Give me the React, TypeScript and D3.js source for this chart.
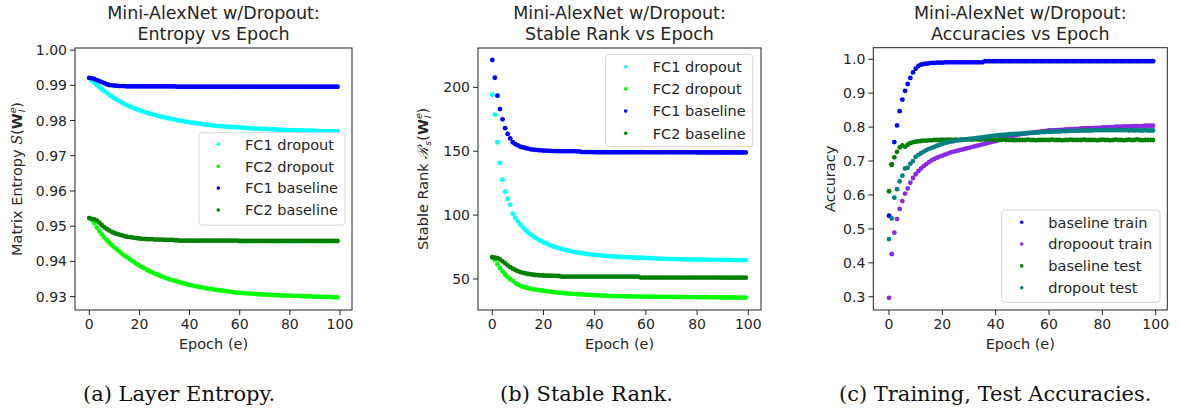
import React from "react";
import * as d3 from "d3";

// ---------------- DATA ----------------
const epochs: number[] = d3.range(100);

// Panel (a): matrix entropy
const entFc1Drop = [
  0.9921,0.9914,0.9907,0.9901,0.9895,0.9889,0.9884,0.9878,0.9873,0.9868,
  0.9863,0.9859,0.9855,0.9851,0.9847,0.9844,0.9840,0.9837,0.9834,0.9832,
  0.9829,0.9827,0.9824,0.9822,0.9820,0.9818,0.9816,0.9814,0.9812,0.9810,
  0.9809,0.9807,0.9806,0.9804,0.9803,0.9801,0.9800,0.9799,0.9797,0.9796,
  0.9795,0.9794,0.9793,0.9792,0.9791,0.9790,0.9789,0.9788,0.9787,0.9786,
  0.9785,0.9785,0.9784,0.9784,0.9783,0.9783,0.9782,0.9782,0.9781,0.9781,
  0.9780,0.9780,0.9779,0.9779,0.9778,0.9778,0.9777,0.9777,0.9777,0.9776,
  0.9776,0.9776,0.9775,0.9775,0.9775,0.9774,0.9774,0.9774,0.9773,0.9773,
  0.9773,0.9773,0.9772,0.9772,0.9772,0.9772,0.9771,0.9771,0.9771,0.9771,
  0.9771,0.9770,0.9770,0.9770,0.9770,0.9770,0.9770,0.9770,0.9770,0.9770,
];
const entFc2Drop = [
  0.9523,0.9518,0.9508,0.9496,0.9486,0.9477,0.9468,0.9460,0.9453,0.9446,
  0.9440,0.9434,0.9428,0.9422,0.9417,0.9412,0.9407,0.9402,0.9397,0.9392,
  0.9388,0.9384,0.9380,0.9376,0.9372,0.9369,0.9366,0.9363,0.9360,0.9357,
  0.9354,0.9352,0.9349,0.9347,0.9345,0.9343,0.9341,0.9339,0.9337,0.9335,
  0.9333,0.9332,0.9330,0.9329,0.9327,0.9326,0.9325,0.9323,0.9322,0.9321,
  0.9320,0.9319,0.9318,0.9317,0.9316,0.9315,0.9314,0.9313,0.9312,0.9311,
  0.9311,0.9310,0.9310,0.9309,0.9309,0.9308,0.9308,0.9307,0.9307,0.9306,
  0.9306,0.9305,0.9305,0.9305,0.9304,0.9304,0.9304,0.9303,0.9303,0.9303,
  0.9303,0.9302,0.9302,0.9302,0.9302,0.9301,0.9301,0.9301,0.9301,0.9300,
  0.9300,0.9300,0.9300,0.9299,0.9299,0.9299,0.9299,0.9298,0.9298,0.9298,
];
const entFc1Base = [
  0.9921,0.9920,0.9918,0.9915,0.9912,0.9909,0.9906,0.9903,0.9901,0.9900,
  0.9899,0.9899,0.9898,0.9898,0.9898,0.9897,0.9897,0.9897,0.9897,0.9897,
  0.9897,0.9897,0.9897,0.9897,0.9897,0.9897,0.9897,0.9897,0.9897,0.9897,
  0.9897,0.9897,0.9897,0.9897,0.9897,0.9896,0.9896,0.9896,0.9896,0.9896,
  0.9896,0.9896,0.9896,0.9896,0.9896,0.9896,0.9896,0.9896,0.9896,0.9896,
  0.9896,0.9896,0.9896,0.9896,0.9896,0.9896,0.9896,0.9896,0.9896,0.9896,
  0.9896,0.9896,0.9896,0.9896,0.9896,0.9896,0.9896,0.9896,0.9896,0.9896,
  0.9896,0.9896,0.9896,0.9896,0.9896,0.9896,0.9896,0.9896,0.9896,0.9896,
  0.9896,0.9896,0.9896,0.9896,0.9896,0.9896,0.9896,0.9896,0.9896,0.9896,
  0.9896,0.9896,0.9896,0.9896,0.9896,0.9896,0.9896,0.9896,0.9896,0.9896,
];
const entFc2Base = [
  0.9523,0.9521,0.9519,0.9516,0.9510,0.9503,0.9497,0.9492,0.9488,0.9484,
  0.9481,0.9478,0.9476,0.9474,0.9472,0.9470,0.9469,0.9468,0.9467,0.9466,
  0.9465,0.9464,0.9464,0.9463,0.9463,0.9463,0.9462,0.9462,0.9462,0.9462,
  0.9461,0.9461,0.9461,0.9461,0.9460,0.9460,0.9459,0.9459,0.9459,0.9459,
  0.9459,0.9459,0.9459,0.9459,0.9459,0.9459,0.9459,0.9459,0.9459,0.9459,
  0.9459,0.9459,0.9459,0.9459,0.9459,0.9459,0.9459,0.9459,0.9459,0.9459,
  0.9458,0.9458,0.9458,0.9458,0.9458,0.9458,0.9458,0.9458,0.9458,0.9458,
  0.9458,0.9458,0.9458,0.9458,0.9458,0.9458,0.9458,0.9458,0.9458,0.9458,
  0.9458,0.9458,0.9458,0.9458,0.9458,0.9458,0.9458,0.9458,0.9458,0.9458,
  0.9458,0.9458,0.9458,0.9458,0.9458,0.9458,0.9458,0.9458,0.9458,0.9458,
];

// Panel (b): stable rank
const srFc1Drop = [
  194.2,178.6,157,140.8,127.7,118.3,112.8,108.1,101.1,98,
  95.1,92.5,90.2,88.2,86.4,84.8,83.3,82,80.8,79.7,
  78.7,77.8,76.9,76.1,75.4,74.7,74.1,73.5,73,72.5,
  72,71.6,71.2,70.8,70.5,70.2,69.9,69.6,69.3,69.1,
  68.9,68.7,68.5,68.3,68.1,67.9,67.8,67.6,67.5,67.4,
  67.3,67.2,67.1,67,66.9,66.8,66.7,66.6,66.6,66.5,
  66.4,66.3,66.2,66.1,66,65.9,65.9,65.8,65.7,65.7,
  65.6,65.6,65.5,65.5,65.4,65.4,65.3,65.3,65.3,65.2,
  65.2,65.2,65.1,65.1,65.1,65,65,65,65,64.9,
  64.9,64.9,64.9,64.8,64.8,64.8,64.8,64.7,64.7,64.7,
];
const srFc2Drop = [
  67,65,61.5,58.5,56,53.5,51.5,50,48.5,46.8,
  45.5,44.6,43.9,43.3,42.8,42.3,41.9,41.6,41.3,41,
  40.8,40.5,40.2,40,39.7,39.5,39.3,39.1,38.9,38.7,
  38.5,38.4,38.3,38.2,38,37.9,37.8,37.6,37.5,37.4,
  37.3,37.2,37.1,37,36.9,36.8,36.7,36.6,36.6,36.5,
  36.5,36.4,36.4,36.3,36.3,36.3,36.2,36.2,36.2,36.2,
  36.1,36.1,36.1,36.1,36,36,36,36,36,35.9,
  35.9,35.9,35.9,35.9,35.8,35.8,35.8,35.8,35.8,35.8,
  35.7,35.7,35.7,35.7,35.7,35.6,35.6,35.6,35.6,35.6,
  35.5,35.5,35.5,35.5,35.5,35.4,35.4,35.4,35.4,35.4,
];
const srFc1Base = [
  221.5,207.5,193.5,183,175,168,163.5,160,157,155.5,
  154.5,153.5,153,152.5,152,151.5,151.2,151,150.8,150.6,
  150.5,150.4,150.3,150.2,150.1,150,150,150,150,150,
  150,150,150,149.9,149.8,149.3,149.3,149.3,149.3,149.3,
  149.2,149.2,149.2,149.2,149.2,149.2,149.2,149.2,149.2,149.2,
  149.2,149.2,149.2,149.2,149.2,149.2,149.2,149.2,149.2,149.2,
  149.1,149.1,149.1,149.1,149.1,149.1,149.1,149.1,149.1,149.1,
  149.1,149.1,149.1,149.1,149.1,149.1,149.1,149.1,149.1,149.1,
  149,149,149,149,149,149,149,149,149,149,
  149,149,149,149,149,149,149,149,149,149,
];
const srFc2Base = [
  67,66.6,66.2,65.3,63.8,62.2,60.6,59.2,58,57,
  56.1,55.4,54.8,54.3,53.9,53.6,53.3,53.1,52.9,52.8,
  52.7,52.6,52.5,52.5,52.4,52.4,52.3,51.8,51.8,51.8,
  51.8,51.8,51.8,51.8,51.8,51.8,51.8,51.8,51.8,51.8,
  51.8,51.8,51.8,51.8,51.8,51.8,51.8,51.8,51.8,51.8,
  51.8,51.8,51.8,51.8,51.8,51.8,51.8,51.8,51.1,51.1,
  51.1,51.1,51.1,51.1,51.1,51.1,51.1,51.1,51.1,51.1,
  51.1,51.1,51.1,51.1,51.1,51.1,51.1,51.1,51.1,51.1,
  51.1,51.1,51.1,51.1,51.1,51.1,51.1,51.1,51.1,51.1,
  51,51,51,51,51,51,51,51,51,51,
];

// Panel (c): accuracies
const accBaseTrain = [
  0.539,0.690,0.756,0.805,0.847,0.881,0.907,0.927,0.945,0.961,
  0.972,0.980,0.984,0.986,0.987,0.988,0.989,0.989,0.990,0.990,
  0.990,0.991,0.991,0.991,0.991,0.991,0.991,0.991,0.991,0.991,
  0.991,0.991,0.991,0.991,0.991,0.991,0.994,0.994,0.994,0.994,
  0.994,0.994,0.994,0.994,0.994,0.994,0.994,0.994,0.994,0.994,
  0.994,0.994,0.994,0.994,0.994,0.994,0.994,0.994,0.994,0.994,
  0.994,0.994,0.994,0.994,0.994,0.994,0.994,0.994,0.994,0.994,
  0.994,0.994,0.994,0.994,0.994,0.994,0.994,0.994,0.994,0.994,
  0.994,0.994,0.994,0.994,0.994,0.994,0.994,0.994,0.994,0.994,
  0.994,0.994,0.994,0.994,0.994,0.994,0.994,0.994,0.994,0.994,
];
const accDropTrain = [
  0.297,0.426,0.489,0.529,0.559,0.582,0.604,0.619,0.636,0.650,
  0.661,0.670,0.678,0.685,0.691,0.697,0.702,0.706,0.710,0.713,
  0.716,0.719,0.722,0.725,0.727,0.729,0.731,0.733,0.735,0.737,
  0.739,0.741,0.743,0.745,0.747,0.749,0.751,0.753,0.755,0.757,
  0.759,0.762,0.765,0.767,0.769,0.771,0.773,0.775,0.777,0.779,
  0.780,0.781,0.782,0.783,0.784,0.785,0.786,0.787,0.788,0.789,
  0.790,0.790,0.791,0.791,0.792,0.792,0.793,0.793,0.794,0.794,
  0.795,0.795,0.796,0.796,0.797,0.797,0.797,0.798,0.798,0.798,
  0.799,0.799,0.800,0.800,0.800,0.801,0.801,0.801,0.802,0.802,
  0.802,0.802,0.803,0.803,0.803,0.803,0.804,0.804,0.804,0.804,
];
const accBaseTest = [
  0.611,0.689,0.711,0.727,0.740,0.746,0.742,0.748,0.753,0.755,
  0.757,0.758,0.759,0.760,0.760,0.761,0.761,0.762,0.762,0.762,
  0.763,0.762,0.763,0.763,0.762,0.763,0.762,0.763,0.763,0.763,
  0.764,0.763,0.764,0.764,0.763,0.764,0.764,0.764,0.764,0.764,
  0.763,0.762,0.762,0.763,0.762,0.762,0.762,0.761,0.762,0.762,
  0.762,0.762,0.763,0.762,0.762,0.761,0.762,0.762,0.762,0.762,
  0.762,0.763,0.762,0.762,0.762,0.761,0.762,0.762,0.763,0.762,
  0.762,0.762,0.762,0.763,0.762,0.762,0.762,0.762,0.761,0.762,
  0.763,0.762,0.762,0.761,0.762,0.763,0.762,0.762,0.761,0.762,
  0.763,0.762,0.762,0.764,0.762,0.761,0.762,0.762,0.762,0.762,
];
const accDropTest = [
  0.470,0.531,0.592,0.617,0.640,0.657,0.678,0.680,0.692,0.700,
  0.712,0.718,0.723,0.728,0.732,0.736,0.739,0.742,0.745,0.748,
  0.751,0.753,0.755,0.757,0.758,0.760,0.761,0.762,0.763,0.764,
  0.765,0.766,0.767,0.768,0.769,0.770,0.771,0.772,0.773,0.774,
  0.775,0.776,0.777,0.777,0.778,0.779,0.779,0.780,0.780,0.781,
  0.781,0.782,0.782,0.783,0.783,0.784,0.784,0.785,0.785,0.786,
  0.786,0.786,0.787,0.787,0.787,0.788,0.788,0.788,0.789,0.789,
  0.789,0.789,0.790,0.790,0.790,0.790,0.790,0.791,0.791,0.791,
  0.791,0.791,0.791,0.791,0.791,0.791,0.791,0.791,0.791,0.791,
  0.790,0.791,0.790,0.791,0.790,0.790,0.791,0.790,0.790,0.790,
];

const xTicks = [0, 20, 40, 60, 80, 100];
const entTicks = [0.93, 0.94, 0.95, 0.96, 0.97, 0.98, 0.99, 1.0];
const srTicks = [50, 100, 150, 200];
const accTicks = [0.3, 0.4, 0.5, 0.6, 0.7, 0.8, 0.9, 1.0];

const entSeries = [
  { name: "FC1 dropout", color: "#00ffff", values: entFc1Drop },
  { name: "FC2 dropout", color: "#00ff00", values: entFc2Drop },
  { name: "FC1 baseline", color: "#0000ff", values: entFc1Base },
  { name: "FC2 baseline", color: "#008000", values: entFc2Base },
];
const srSeries = [
  { name: "FC1 dropout", color: "#00ffff", values: srFc1Drop },
  { name: "FC2 dropout", color: "#00ff00", values: srFc2Drop },
  { name: "FC1 baseline", color: "#0000ff", values: srFc1Base },
  { name: "FC2 baseline", color: "#008000", values: srFc2Base },
];
const accSeries = [
  { name: "baseline train", color: "#0000ff", values: accBaseTrain },
  { name: "dropoout train", color: "#8a2be2", values: accDropTrain },
  { name: "baseline test", color: "#008000", values: accBaseTest },
  { name: "dropout test", color: "#008080", values: accDropTest },
];

// ---------------- LAYOUT ----------------
const FONT = "'DejaVu Sans', sans-serif";
const SERIF = "'DejaVu Serif', serif";
const TXT = "#262626";

type Series = { name: string; color: string; values: number[] };
type PanelCfg = {
  box: [number, number, number, number]; // x0, x1, y0(top), y1(bottom)
  xDom: [number, number];
  yDom: [number, number];
  yTicks: number[];
  yFmt: (v: number) => string;
  series: Series[];
  title: string[];
  legend: { x: number; y: number; w: number; h: number; row0: number; dy: number; mx: number; tx: number };
  ylabelX: number;
  ylabel: React.ReactNode;
  caption: string;
  captionX: number;
};

const panels: PanelCfg[] = [
  {
    box: [75, 352, 48, 310],
    xDom: [-5.7, 104.8],
    yDom: [0.9262, 1.0006],
    yTicks: entTicks,
    yFmt: d3.format(".2f"),
    series: entSeries,
    title: ["Mini-AlexNet w/Dropout:", "Entropy vs Epoch"],
    legend: { x: 199, y: 132.7, w: 146, h: 92.5, row0: 144.3, dy: 21.9, mx: 19.3, tx: 46 },
    ylabelX: 22,
    ylabel: (
      <>
        Matrix Entropy{" "}
        <tspan fontFamily={SERIF} fontStyle="italic">S</tspan>(
        <tspan fontWeight="bold">W</tspan>
        <tspan fontSize={9.5} fontStyle="italic" dy={-6}>e</tspan>
        <tspan fontSize={9.5} fontStyle="italic" dx={-5} dy={9}>l</tspan>
        <tspan dx={2} dy={-3}>)</tspan>
      </>
    ),
    caption: "(a) Layer Entropy.",
    captionX: 83,
  },
  {
    box: [478, 761, 48, 310],
    xDom: [-5.59, 104.96],
    yDom: [25.7, 230.8],
    yTicks: srTicks,
    yFmt: d3.format("d"),
    series: srSeries,
    title: ["Mini-AlexNet w/Dropout:", "Stable Rank vs Epoch"],
    legend: { x: 605.7, y: 54.3, w: 147, h: 92.4, row0: 66.7, dy: 22.2, mx: 20, tx: 47 },
    ylabelX: 428,
    ylabel: (
      <>
        Stable Rank{" "}
        <tspan fontFamily={SERIF} fontStyle="italic">ℛ</tspan>
        <tspan fontSize={9.5} fontStyle="italic" dy={3}>s</tspan>
        <tspan dy={-3}>(</tspan>
        <tspan fontWeight="bold">W</tspan>
        <tspan fontSize={9.5} fontStyle="italic" dy={-6}>e</tspan>
        <tspan fontSize={9.5} fontStyle="italic" dx={-5} dy={9}>l</tspan>
        <tspan dx={2} dy={-3}>)</tspan>
      </>
    ),
    caption: "(b) Stable Rank.",
    captionX: 500,
  },
  {
    box: [873.3, 1167.3, 47.7, 310],
    xDom: [-5.89, 104.35],
    yDom: [0.261, 1.034],
    yTicks: accTicks,
    yFmt: d3.format(".1f"),
    series: accSeries,
    title: ["Mini-AlexNet w/Dropout:", "Accuracies vs Epoch"],
    legend: { x: 1001.7, y: 210, w: 158.3, h: 92.3, row0: 222.3, dy: 21.8, mx: 20, tx: 46.6 },
    ylabelX: 835,
    ylabel: <>Accuracy</>,
    caption: "(c) Training, Test Accuracies.",
    captionX: 839,
  },
];

function Panel({ cfg }: { cfg: PanelCfg }) {
  const [x0, x1, y0, y1] = cfg.box;
  const x = d3.scaleLinear().domain(cfg.xDom).range([x0, x1]);
  const y = d3.scaleLinear().domain(cfg.yDom).range([y1, y0]);
  const cx = (x0 + x1) / 2;
  const cy = (y0 + y1) / 2;
  const L = cfg.legend;
  return (
    <g>
      {cfg.title.map((t, i) => (
        <text key={i} x={cx} y={19 + i * 21} textAnchor="middle" fontFamily={FONT} fontSize={17.5} fill={TXT}>
          {t}
        </text>
      ))}
      {cfg.series.map((s) => (
        <g key={s.name} fill={s.color}>
          {s.values.map((v, i) => (
            <circle key={i} cx={x(epochs[i])} cy={y(v)} r={2.4} />
          ))}
        </g>
      ))}
      <rect x={x0} y={y0} width={x1 - x0} height={y1 - y0} fill="none" stroke="#222" strokeWidth={1} />
      {xTicks.map((t) => (
        <g key={t}>
          <line x1={x(t)} x2={x(t)} y1={y1} y2={y1 + 5} stroke="#222" strokeWidth={1} />
          <text x={x(t)} y={328.5} textAnchor="middle" fontFamily={FONT} fontSize={14} fill={TXT}>
            {t}
          </text>
        </g>
      ))}
      {cfg.yTicks.map((t) => (
        <g key={t}>
          <line x1={x0 - 5} x2={x0} y1={y(t)} y2={y(t)} stroke="#222" strokeWidth={1} />
          <text x={x0 - 8} y={y(t) + 5} textAnchor="end" fontFamily={FONT} fontSize={14} fill={TXT}>
            {cfg.yFmt(t)}
          </text>
        </g>
      ))}
      <text x={cx} y={348.5} textAnchor="middle" fontFamily={FONT} fontSize={14.5} fill={TXT}>
        Epoch (e)
      </text>
      <text
        transform={`translate(${cfg.ylabelX},${cy}) rotate(-90)`}
        textAnchor="middle"
        fontFamily={FONT}
        fontSize={14.5}
        fill={TXT}
      >
        {cfg.ylabel}
      </text>
      <rect x={L.x} y={L.y} width={L.w} height={L.h} rx={3} fill="#fff" fillOpacity={0.8} stroke="#d5d5d5" strokeWidth={1} />
      {cfg.series.map((s, i) => (
        <g key={s.name}>
          <circle cx={L.x + L.mx} cy={L.row0 + i * L.dy} r={1.8} fill={s.color} />
          <text x={L.x + L.tx} y={L.row0 + i * L.dy + 5.3} fontFamily={FONT} fontSize={14.5} fill={TXT}>
            {s.name}
          </text>
        </g>
      ))}
      <text x={cfg.captionX} y={400.5} fontFamily={SERIF} fontSize={21} fill="#111" style={{ whiteSpace: "pre" }}>
        {cfg.caption}
      </text>
    </g>
  );
}

export default function App() {
  return (
    <svg
      width={1179}
      height={412}
      viewBox="0 0 1179 412"
      style={{ position: "absolute", left: 0, top: 0, background: "#fff" }}
    >
      <rect width={1179} height={412} fill="#fff" />
      {panels.map((p, i) => (
        <Panel key={i} cfg={p} />
      ))}
    </svg>
  );
}
